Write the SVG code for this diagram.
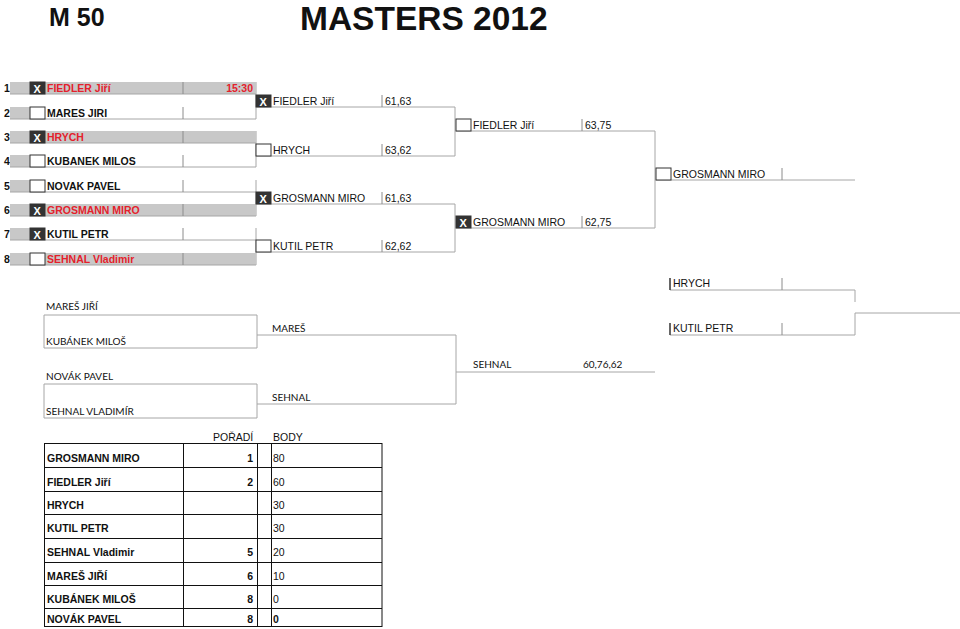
<svg xmlns="http://www.w3.org/2000/svg" width="960" height="629" viewBox="0 0 960 629">
<style>
text{font-family:"Liberation Sans",Arial,sans-serif;font-size:10.5px;fill:#111}
.b{font-weight:bold}
.red{fill:#e4212b}
.cal{font-family:Lato,"Liberation Sans",sans-serif;font-size:10px}
.ln{stroke:#a6a6a6;stroke-width:1;fill:none}
.sep{stroke:#8c8c8c;stroke-width:1}
.gray{fill:#c8c8c8}
.bx{fill:#fff;stroke:#333;stroke-width:1}
.bxx{fill:#333;stroke:#333;stroke-width:1}
.xt{fill:#fff;font-weight:bold;font-size:11px}
.tk{stroke:#333;stroke-width:1.5}
.tb{stroke:#111;stroke-width:1;fill:none}
</style>
<defs>
<g id="xbox"><rect class="bxx" x="0" y="0" width="15" height="12"/><text class="xt" x="3.5" y="10.5">X</text></g>
<rect id="ebox" class="bx" x="0" y="0" width="15" height="12"/>
</defs>
<rect width="960" height="629" fill="#fff"/>
<text class="b" x="49" y="26" style="font-size:25px">M 50</text>
<text class="b" x="300" y="30" style="font-size:33.5px">MASTERS 2012</text>

<g id="connectors">
<path class="ln" d="M256,82V119M256,131V167M256,180V216M256,228V265"/>
<path class="ln" d="M455,107V156M455,204V252"/>
<path class="ln" d="M655,131V228"/>
<path class="ln" d="M855,290V302M855,313V335M855,313H960"/>
<path class="ln" d="M44,315H257V348H44ZM44,384H257V418H44Z"/>
<path class="ln" d="M257,335H456V404H257M456,372H655"/>
</g>

<g id="r1-1"><text class="b" x="4" y="92">1</text><rect class="gray" x="10" y="82" width="246" height="12"/><line class="ln" x1="10" y1="94" x2="256" y2="94"/><line class="sep" x1="183" y1="82" x2="183" y2="94"/><use href="#xbox" x="30" y="82"/><text class="b red" x="47" y="92">FIEDLER Jiří</text><text class="b red" x="253" y="92" text-anchor="end">15:30</text></g>
<g id="r1-2"><text class="b" x="4" y="117">2</text><rect class="gray" x="10" y="107" width="20" height="12"/><line class="ln" x1="10" y1="119" x2="256" y2="119"/><line class="sep" x1="183" y1="107" x2="183" y2="119"/><use href="#ebox" x="30" y="107"/><text class="b" x="47" y="117">MARES JIRI</text></g>
<g id="r1-3"><text class="b" x="4" y="141">3</text><rect class="gray" x="10" y="131" width="246" height="12"/><line class="ln" x1="10" y1="143" x2="256" y2="143"/><line class="sep" x1="183" y1="131" x2="183" y2="143"/><use href="#xbox" x="30" y="131"/><text class="b red" x="47" y="141">HRYCH</text></g>
<g id="r1-4"><text class="b" x="4" y="165">4</text><rect class="gray" x="10" y="155" width="20" height="12"/><line class="ln" x1="10" y1="167" x2="256" y2="167"/><line class="sep" x1="183" y1="155" x2="183" y2="167"/><use href="#ebox" x="30" y="155"/><text class="b" x="47" y="165">KUBANEK MILOS</text></g>
<g id="r1-5"><text class="b" x="4" y="190">5</text><rect class="gray" x="10" y="180" width="20" height="12"/><line class="ln" x1="10" y1="192" x2="256" y2="192"/><line class="sep" x1="183" y1="180" x2="183" y2="192"/><use href="#ebox" x="30" y="180"/><text class="b" x="47" y="190">NOVAK PAVEL</text></g>
<g id="r1-6"><text class="b" x="4" y="214">6</text><rect class="gray" x="10" y="204" width="246" height="12"/><line class="ln" x1="10" y1="216" x2="256" y2="216"/><line class="sep" x1="183" y1="204" x2="183" y2="216"/><use href="#xbox" x="30" y="204"/><text class="b red" x="47" y="214">GROSMANN MIRO</text></g>
<g id="r1-7"><text class="b" x="4" y="238">7</text><rect class="gray" x="10" y="228" width="20" height="12"/><line class="ln" x1="10" y1="240" x2="256" y2="240"/><line class="sep" x1="183" y1="228" x2="183" y2="240"/><use href="#xbox" x="30" y="228"/><text class="b" x="47" y="238">KUTIL PETR</text></g>
<g id="r1-8"><text class="b" x="4" y="263">8</text><rect class="gray" x="10" y="253" width="246" height="12"/><line class="ln" x1="10" y1="265" x2="256" y2="265"/><line class="sep" x1="183" y1="253" x2="183" y2="265"/><use href="#ebox" x="30" y="253"/><text class="b red" x="47" y="263">SEHNAL Vladimir</text></g>

<g id="r2-1"><line class="ln" x1="256" y1="107" x2="455" y2="107"/><line class="sep" x1="382" y1="95" x2="382" y2="107"/><use href="#xbox" x="256" y="95"/><text x="273" y="105">FIEDLER Jiří</text><text x="385" y="105">61,63</text></g>
<g id="r2-2"><line class="ln" x1="256" y1="156" x2="455" y2="156"/><line class="sep" x1="382" y1="144" x2="382" y2="156"/><use href="#ebox" x="256" y="144"/><text x="273" y="154">HRYCH</text><text x="385" y="154">63,62</text></g>
<g id="r2-3"><line class="ln" x1="256" y1="204" x2="455" y2="204"/><line class="sep" x1="382" y1="192" x2="382" y2="204"/><use href="#xbox" x="256" y="192"/><text x="273" y="202">GROSMANN MIRO</text><text x="385" y="202">61,63</text></g>
<g id="r2-4"><line class="ln" x1="256" y1="252" x2="455" y2="252"/><line class="sep" x1="382" y1="240" x2="382" y2="252"/><use href="#ebox" x="256" y="240"/><text x="273" y="250">KUTIL PETR</text><text x="385" y="250">62,62</text></g>

<g id="r3-1"><line class="ln" x1="456" y1="131" x2="655" y2="131"/><line class="sep" x1="582" y1="119" x2="582" y2="131"/><use href="#ebox" x="456" y="119"/><text x="473" y="129">FIEDLER Jiří</text><text x="585" y="129">63,75</text></g>
<g id="r3-2"><line class="ln" x1="456" y1="228" x2="655" y2="228"/><line class="sep" x1="582" y1="216" x2="582" y2="228"/><use href="#xbox" x="456" y="216"/><text x="473" y="226">GROSMANN MIRO</text><text x="585" y="226">62,75</text></g>

<g id="final"><line class="ln" x1="656" y1="180" x2="855" y2="180"/><line class="sep" x1="782" y1="168" x2="782" y2="180"/><use href="#ebox" x="656" y="168"/><text x="673" y="178">GROSMANN MIRO</text></g>

<g id="p3-1"><line class="ln" x1="670" y1="290" x2="855" y2="290"/><line class="tk" x1="670" y1="278" x2="670" y2="290"/><line class="sep" x1="782" y1="278" x2="782" y2="290"/><text x="673" y="287">HRYCH</text></g>
<g id="p3-2"><line class="ln" x1="670" y1="335" x2="855" y2="335"/><line class="tk" x1="670" y1="323" x2="670" y2="335"/><line class="sep" x1="782" y1="323" x2="782" y2="335"/><text x="673" y="332">KUTIL PETR</text></g>

<g id="c-1"><text class="cal" x="46" y="310">MAREŠ JIŘÍ</text></g>
<g id="c-2"><text class="cal" x="46" y="345">KUBÁNEK MILOŠ</text></g>
<g id="c-3"><text class="cal" x="46" y="380">NOVÁK PAVEL</text></g>
<g id="c-4"><text class="cal" x="46" y="415">SEHNAL VLADIMÍR</text></g>
<g id="c-5"><text class="cal" x="272" y="332">MAREŠ</text></g>
<g id="c-6"><text class="cal" x="272" y="401">SEHNAL</text></g>
<g id="c-7"><text class="cal" x="473" y="368">SEHNAL</text><text class="cal" x="583" y="368">60,76,62</text></g>

<g id="table">
<text x="213" y="441">POŘADÍ</text><text x="273" y="441">BODY</text>
<rect class="tb" x="44.5" y="443.5" width="337.5" height="183"/>
<path class="tb" d="M44,467.5H382M44,491.5H382M44,514.5H382M44,538.5H382M44,562.5H382M44,585.5H382M44,608.5H382M183.5,443V627M257.5,443V627M271.5,443V627"/>
<text class="b" x="47" y="462">GROSMANN MIRO</text><text class="b" x="253" y="462" text-anchor="end">1</text><text x="273" y="462">80</text>
<text class="b" x="47" y="486">FIEDLER Jiří</text><text class="b" x="253" y="486" text-anchor="end">2</text><text x="273" y="486">60</text>
<text class="b" x="47" y="509">HRYCH</text><text x="273" y="509">30</text>
<text class="b" x="47" y="532">KUTIL PETR</text><text x="273" y="532">30</text>
<text class="b" x="47" y="556">SEHNAL Vladimir</text><text class="b" x="253" y="556" text-anchor="end">5</text><text x="273" y="556">20</text>
<text class="b" x="47" y="580">MAREŠ JIŘÍ</text><text class="b" x="253" y="580" text-anchor="end">6</text><text x="273" y="580">10</text>
<text class="b" x="47" y="603">KUBÁNEK MILOŠ</text><text class="b" x="253" y="603" text-anchor="end">8</text><text x="273" y="603">0</text>
<text class="b" x="47" y="623">NOVÁK PAVEL</text><text class="b" x="253" y="623" text-anchor="end">8</text><text class="b" x="273" y="623">0</text>
</g>
</svg>
